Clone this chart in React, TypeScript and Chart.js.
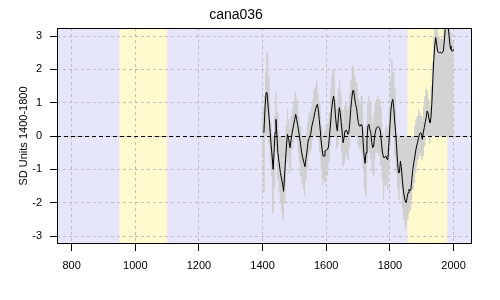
import { useEffect, useRef } from "react";
import { Chart, registerables } from "chart.js";

Chart.register(...registerables);

const chartTitle = "cana036";
const yAxisTitle = "SD Units 1400-1800";
const xTickValues = [800, 1000, 1200, 1400, 1600, 1800, 2000];
const yTickValues = [-3, -2, -1, 0, 1, 2, 3];
const xRange = [754, 2058];
const yRange = [-3.24, 3.24];
const bandStarts = [950, 1855];
const bandEnds = [1100, 1980];

const annualStart = 1400;
const annualStep = 2;
const annualValues = [
  -0.6, 0.8, -1.7, 1.2, 0.4, 1.9, 0.9, 2.5, 0.6, 1.8,
  -0.2, 1.0, -0.8, 0.4, -1.2, -0.1, -2.3, -0.4, -1.6, 0.6,
  -0.3, 1.3, -0.5, 0.7, -1.3, 0.1, -1.7, -0.2, -2.0, -0.6,
  -2.2, -0.7, -2.5, -1.0, -2.0, -0.4, -1.5, 0.3, -0.8, 0.8,
  -0.6, 0.5, -1.1, 0.2, -0.9, 0.6, -0.4, 0.8, -0.2, 1.0,
  0.1, 1.3, 0.2, 1.1, -0.1, 0.9, -0.5, 0.6, -0.8, 0.3,
  -1.2, 0.0, -1.4, -0.2, -1.6, -0.3, -1.8, -0.4, -1.3, 0.1,
  -1.0, 0.4, -0.6, 0.7, -0.5, 0.6, -0.4, 0.9, -0.1, 1.1,
  0.0, 1.4, 0.2, 1.5, 0.3, 1.7, 0.4, 1.3, 0.0, 1.0,
  -0.5, 0.6, -1.0, 0.3, -1.5, -0.1, -1.3, 0.1, -1.4, 0.2,
  -1.0, 0.3, -1.2, 0.4, -0.8, 0.7, -0.3, 1.4, 0.2, 1.8,
  0.5, 2.0, 0.6, 1.6, 0.0, 1.1, -0.4, 0.8, -0.3, 1.4,
  0.2, 1.7, 0.0, 1.3, -0.5, 0.8, -0.9, 0.4, -0.8, 0.9,
  -0.6, 1.0, -0.5, 0.8, -0.7, 0.9, -0.3, 1.3, 0.2, 1.7,
  0.5, 2.1, 0.7, 2.0, 0.5, 1.8, 0.3, 1.6, 0.1, 1.4,
  -0.3, 1.1, -0.4, 1.0, -0.3, 1.2, -0.5, 0.9, -1.0, 0.2,
  -1.6, -0.2, -1.8, 0.3, -0.8, 1.0, -0.4, 1.2, -0.5, 1.0,
  -0.7, 0.6, -1.1, 0.4, -1.2, 0.7, -0.7, 1.0, -0.5, 1.1,
  -0.4, 1.2, -0.6, 1.1, -0.5, 0.9, -0.9, 0.4, -1.3, 0.1,
  -1.9, -0.2, -1.5, 0.2, -1.4, 0.3, -1.6, 0.1, -1.0, 0.9,
  -0.3, 1.7, 0.2, 2.3, 0.4, 1.9, 0.2, 1.4, -0.6, 0.8,
  -1.1, 0.1, -1.6, -0.4, -1.9, -0.5, -1.4, -0.1, -1.6, -0.6,
  -2.2, -1.0, -2.5, -1.2, -2.8, -1.4, -2.7, -1.1, -2.5, -0.9,
  -2.3, -1.0, -2.2, -0.8, -1.9, -0.5, -1.6, -0.1, -1.4, 0.3,
  -1.1, 0.5, -0.9, 0.6, -0.7, 0.8, -0.6, 0.7, -0.5, 0.6,
  -0.7, 0.4, -0.6, 0.9, -0.3, 1.2, -0.1, 1.4, 0.2, 1.3,
  0.1, 1.1, -0.2, 0.9, 0.0, 1.5, 0.6, 2.2, 1.4, 3.0,
  2.1, 3.4, 2.4, 3.5, 2.2, 3.1, 2.0, 3.0, 2.1, 2.9,
  2.0, 3.0, 2.1, 2.9, 2.2, 3.3, 2.5, 3.6, 2.8, 3.8,
  3.0, 3.7, 2.8, 3.4, 2.3, 3.1, 2.1, 2.9, 2.2, 2.8,
  2.4,
];

const smoothYears = [
  1404, 1408, 1411, 1414, 1418, 1421, 1424, 1427, 1430, 1433,
  1436, 1439, 1442, 1445, 1448, 1452, 1456, 1460, 1464, 1466,
  1469, 1472, 1475, 1478, 1482, 1486, 1489, 1492, 1497, 1501,
  1504, 1507, 1510, 1514, 1518, 1522, 1526, 1530, 1533, 1536,
  1539, 1543, 1547, 1551, 1555, 1560, 1564, 1568, 1572, 1575,
  1578, 1581, 1584, 1587, 1590, 1593, 1596, 1600, 1604, 1607,
  1610, 1613, 1616, 1620, 1623, 1626, 1629, 1632, 1635, 1638,
  1641, 1644, 1647, 1650, 1653, 1656, 1659, 1662, 1665, 1668,
  1671, 1674, 1677, 1680, 1683, 1686, 1689, 1692, 1695, 1698,
  1701, 1704, 1707, 1710, 1713, 1716, 1719, 1722, 1725, 1728,
  1731, 1734, 1737, 1740, 1743, 1746, 1749, 1752, 1755, 1758,
  1761, 1764, 1767, 1770, 1773, 1776, 1779, 1782, 1785, 1788,
  1791, 1794, 1797, 1800, 1803, 1806, 1809, 1812, 1815, 1818,
  1821, 1824, 1827, 1830, 1833, 1836, 1839, 1842, 1845, 1848,
  1851, 1854, 1857, 1860, 1863, 1866, 1869, 1872, 1875, 1878,
  1881, 1884, 1887, 1890, 1893, 1896, 1899, 1902, 1905, 1908,
  1911, 1914, 1917, 1920, 1923, 1926, 1929, 1932, 1935, 1938,
  1941, 1944, 1947, 1950, 1953, 1956, 1959, 1962, 1965, 1968,
  1971, 1974, 1977, 1980, 1983, 1986, 1989, 1992, 1995, 1998,
  2000,
];
const smoothValues = [
  0.1, 0.9, 1.3, 1.3, 0.8, 0.5, 0.1, -0.3, -0.6, -1.0,
  -0.5, 0.1, 0.5, 0.0, -0.5, -0.8, -1.1, -1.3, -1.5, -1.66,
  -1.2, -0.7, -0.3, 0.05, -0.1, -0.35, -0.15, 0.05, 0.3, 0.5,
  0.65, 0.5, 0.35, 0.1, -0.15, -0.45, -0.65, -0.8, -0.92, -0.7,
  -0.5, -0.15, -0.05, 0.05, 0.3, 0.5, 0.7, 0.85, 0.95, 0.8,
  0.5, 0.2, -0.15, -0.4, -0.6, -0.6, -0.45, -0.42, -0.4, -0.33,
  0.0, 0.3, 0.7, 1.05, 1.2, 1.0, 0.6, 0.3, 0.15, 0.55,
  0.85, 0.7, 0.4, 0.12, -0.2, -0.05, 0.15, 0.18, 0.15, 0.05,
  0.1, 0.4, 0.8, 1.1, 1.35, 1.38, 1.15, 0.95, 0.85, 0.6,
  0.4, 0.3, 0.3, 0.35, 0.3, -0.2, -0.6, -0.82, -0.5, -0.1,
  0.3, 0.35, 0.2, 0.1, -0.2, -0.35, -0.3, 0.0, 0.15, 0.25,
  0.27, 0.27, 0.25, 0.15, -0.15, -0.45, -0.6, -0.66, -0.62, -0.6,
  -0.7, -0.65, -0.2, 0.3, 0.75, 1.0, 1.1, 0.85, 0.45, 0.1,
  -0.3, -0.8, -1.1, -1.1, -0.75, -0.95, -1.3, -1.6, -1.8, -1.95,
  -2.0, -1.85, -1.7, -1.6, -1.65, -1.6, -1.3, -1.0, -0.8, -0.65,
  -0.45, -0.3, -0.2, -0.05, 0.05, 0.1, 0.08, -0.1, 0.1, 0.25,
  0.4, 0.55, 0.75, 0.7, 0.5, 0.4, 0.55, 1.0, 1.7, 2.3,
  2.7, 2.95, 2.75, 2.55, 2.5, 2.5, 2.52, 2.48, 2.5, 2.55,
  2.85, 3.2, 3.4, 3.5, 3.3, 3.0, 2.7, 2.6, 2.55, 2.55,
  2.6,
];

const FONT = "'Liberation Sans', Arial, sans-serif";

const decorPlugin = {
  id: "decor",
  beforeDraw(chart: any) {
    const { ctx, chartArea, scales } = chart;
    const { left, top, right, bottom } = chartArea;
    ctx.save();
    ctx.fillStyle = "#E6E6FA";
    ctx.fillRect(left, top, right - left, bottom - top);
    ctx.fillStyle = "#FFFACD";
    for (let i = 0; i < bandStarts.length; i++) {
      const xa = scales.x.getPixelForValue(bandStarts[i]);
      const xb = scales.x.getPixelForValue(bandEnds[i]);
      ctx.fillRect(xa, top, xb - xa, bottom - top);
    }
    ctx.restore();
  },
  afterDatasetsDraw(chart: any) {
    const { ctx, chartArea, scales } = chart;
    const { left, top, right, bottom } = chartArea;
    ctx.save();
    const y0 = Math.round(scales.y.getPixelForValue(0)) + 0.5;
    ctx.strokeStyle = "#000";
    ctx.lineWidth = 1;
    ctx.setLineDash([4, 3]);
    ctx.beginPath();
    ctx.moveTo(left, y0);
    ctx.lineTo(right, y0);
    ctx.stroke();
    ctx.setLineDash([]);
    ctx.strokeRect(
      Math.round(left) + 0.5,
      Math.round(top) + 0.5,
      Math.round(right) - Math.round(left) - 1,
      Math.round(bottom) - Math.round(top) - 1
    );
    ctx.restore();
  },
};

export default function App() {
  const ref = useRef<HTMLCanvasElement | null>(null);

  useEffect(() => {
    if (!ref.current) return;
    const annualPts = annualValues.map((v, i) => ({ x: annualStart + i * annualStep, y: v }));
    const smoothPts = smoothValues.map((v, i) => ({ x: smoothYears[i], y: v }));
    const chart = new Chart(ref.current, {
      type: "line",
      data: {
        datasets: [
          {
            data: annualPts,
            borderColor: "#CFCFCF",
            borderWidth: 1,
            pointRadius: 0,
            fill: false,
            order: 2,
          },
          {
            data: smoothPts,
            borderColor: "#000",
            borderWidth: 1,
            pointRadius: 0,
            fill: { value: 0 },
            backgroundColor: "#D3D3D3",
            order: 1,
          },
        ],
      },
      options: {
        animation: false,
        responsive: false,
        devicePixelRatio: 1,
        layout: { padding: { left: 0, right: 28, top: 0, bottom: 0 } },
        plugins: {
          legend: { display: false },
          tooltip: { enabled: false },
          title: {
            display: true,
            text: chartTitle,
            color: "#000",
            font: { family: FONT, size: 14, weight: "normal" },
            padding: { top: 7, bottom: 4.2 },
          },
        },
        scales: {
          x: {
            type: "linear",
            min: xRange[0],
            max: xRange[1],
            afterFit(scale: any) {
              scale.height = 56;
            },
            afterBuildTicks(scale: any) {
              scale.ticks = xTickValues.map((v) => ({ value: v }));
            },
            ticks: {
              includeBounds: false,
              color: "#000",
              font: { family: FONT, size: 11 },
              padding: 8,
              maxRotation: 0,
              autoSkip: false,
              callback: (v: any) => String(v),
            },
            grid: {
              color: "#BEBEBE",
              tickColor: "#000",
              tickLength: 7,
              lineWidth: 1,
            },
            border: { display: false, dash: [3, 3] },
          },
          y: {
            type: "linear",
            min: yRange[0],
            max: yRange[1],
            afterFit(scale: any) {
              scale.width = 57;
            },
            afterBuildTicks(scale: any) {
              scale.ticks = yTickValues.map((v) => ({ value: v }));
            },
            ticks: {
              includeBounds: false,
              color: "#000",
              font: { family: FONT, size: 11 },
              padding: 8,
              autoSkip: false,
              callback: (v: any) => String(v),
            },
            grid: {
              color: "#BEBEBE",
              tickColor: "#000",
              tickLength: 7,
              lineWidth: 1,
            },
            border: { display: false, dash: [3, 3] },
            title: {
              display: true,
              text: yAxisTitle,
              color: "#000",
              font: { family: FONT, size: 11 },
              padding: { top: 17, bottom: 0 },
            },
          },
        },
      },
      plugins: [decorPlugin],
    });
    return () => chart.destroy();
  }, []);

  return (
    <div style={{ position: "fixed", left: 0, top: 0, width: 500, height: 300, background: "#fff" }}>
      <canvas ref={ref} width={500} height={300} style={{ width: 500, height: 300, display: "block" }} />
    </div>
  );
}
